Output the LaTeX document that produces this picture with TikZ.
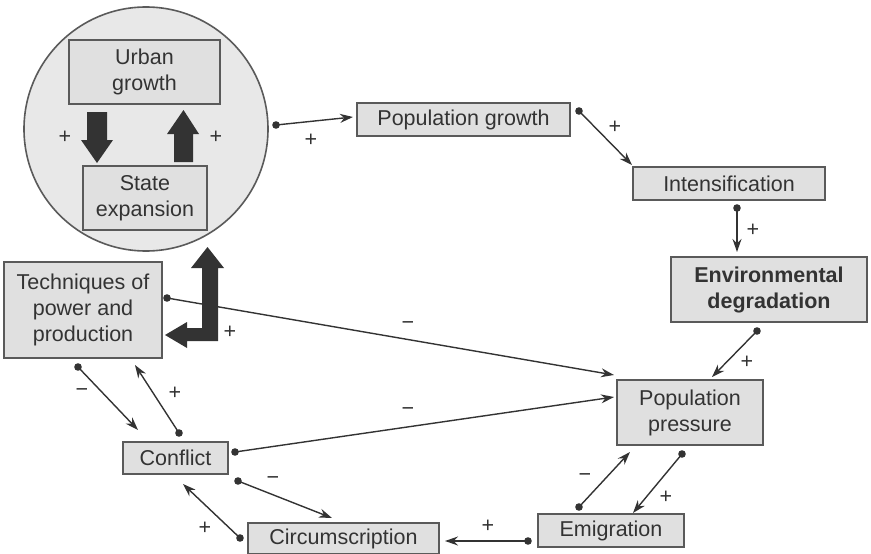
\documentclass[tikz,border=0pt]{standalone}
\usepackage{fontspec}
\setmainfont{Liberation Sans}
\usetikzlibrary{arrows.meta}
\definecolor{ink}{HTML}{333333}
\definecolor{boxfill}{HTML}{E0E0E0}
\definecolor{circfill}{HTML}{E8E8E8}
\definecolor{edgec}{HTML}{5A5A5A}
\begin{document}
\begin{tikzpicture}[x=1pt,y=-1pt,
  box/.style={draw=edgec, line width=1.6pt, fill=boxfill, text=ink, inner sep=0pt, align=center, font=\fontsize{21.5}{26}\selectfont},
  boldbox/.style={box, font=\bfseries\fontsize{21.5}{26}\selectfont},
  conn/.style={draw=ink, line width=1.4pt, -{Stealth[length=13pt,width=9pt]}},
  dotmark/.style={fill=ink},
  sign/.style={text=ink, font=\fontsize{21.5}{26}\selectfont, inner sep=0pt},
  bigarrow/.style={fill=ink, draw=none}]
\useasboundingbox (0,0) rectangle (871,554);

% core circle
\node[circle, draw=edgec, line width=1.6pt, fill=circfill, minimum size=244pt, inner sep=0pt] (core) at (146,129) {};

% boxes
\node[box, minimum width=151pt, minimum height=64pt] (urban) at (144.5,72) {Urban\\growth};
\node[box, minimum width=124pt, minimum height=64pt] (state) at (145,198) {State\\expansion};
\node[box, minimum width=213pt, minimum height=33pt] (popg) at (463.5,119.5) {Population growth};
\node[box, minimum width=192pt, minimum height=33pt] (intens) at (729,183.5) {Intensification};
\node[boldbox, minimum width=196pt, minimum height=65pt] (env) at (769,289.5) {Environmental\\degradation};
\node[box, minimum width=158pt, minimum height=96pt] (tech) at (83,310) {Techniques of\\power and\\production};
\node[box, minimum width=146pt, minimum height=65pt] (press) at (690,412.5) {Population\\pressure};
\node[box, minimum width=105pt, minimum height=32pt] (conf) at (175.5,458) {Conflict};
\node[box, minimum width=191pt, minimum height=31pt] (circ) at (343.5,538.5) {Circumscription};
\node[box, minimum width=146pt, minimum height=33pt] (emig) at (611,530.5) {Emigration};

% thick arrows inside circle and L-shaped arrow
\fill[bigarrow] (87,112) -- (107,112) -- (107,140) -- (113,140) -- (97,163) -- (81,140) -- (87,140) -- cycle;
\fill[bigarrow] (174,162) -- (193,162) -- (193,134) -- (199,134) -- (183.5,110) -- (167,134) -- (174,134) -- cycle;
\fill[bigarrow] (165,335) -- (187,322) -- (187,328) -- (202,328) -- (202,268) -- (191,268) -- (207.5,247) -- (224,268) -- (218,268) -- (218,341) -- (187,341) -- (187,348) -- cycle;

% connector end points
\coordinate (s1) at (276,125);  \coordinate (e1) at (353,117);
\coordinate (s2) at (579,111);  \coordinate (e2) at (632,165);
\coordinate (s3) at (737,208);  \coordinate (e3) at (737,252);
\coordinate (s4) at (757,331);  \coordinate (e4) at (712,377);
\coordinate (s5) at (167,298);  \coordinate (e5) at (614,375);
\coordinate (s6) at (235,452);  \coordinate (e6) at (614,397);
\coordinate (s7) at (78,367);   \coordinate (e7) at (138,430);
\coordinate (s8) at (179,433);  \coordinate (e8) at (135,365);
\coordinate (s9) at (238,481);  \coordinate (e9) at (332,518);
\coordinate (s10) at (240,538); \coordinate (e10) at (183,484);
\coordinate (s11) at (528,541); \coordinate (e11) at (445,541);
\coordinate (s12) at (579,507); \coordinate (e12) at (630,452);
\coordinate (s13) at (682,454); \coordinate (e13) at (633,513);

\foreach \i in {1,...,13} {
  \draw[conn] (s\i) -- (e\i);
  \fill[dotmark] (s\i) circle (3.8);
}

% signs
\foreach \p in {(65,137),(216,137),(311,140),(615,127),(753,230),(747,362),(666,497),(175,393),(205,528),(488,526),(230,332)}
  \node[sign] at \p {+};
\foreach \p in {(408,326),(408,412),(82,393),(273,481),(585,478)}
  \node[sign] at \p {−};
\end{tikzpicture}
\end{document}
